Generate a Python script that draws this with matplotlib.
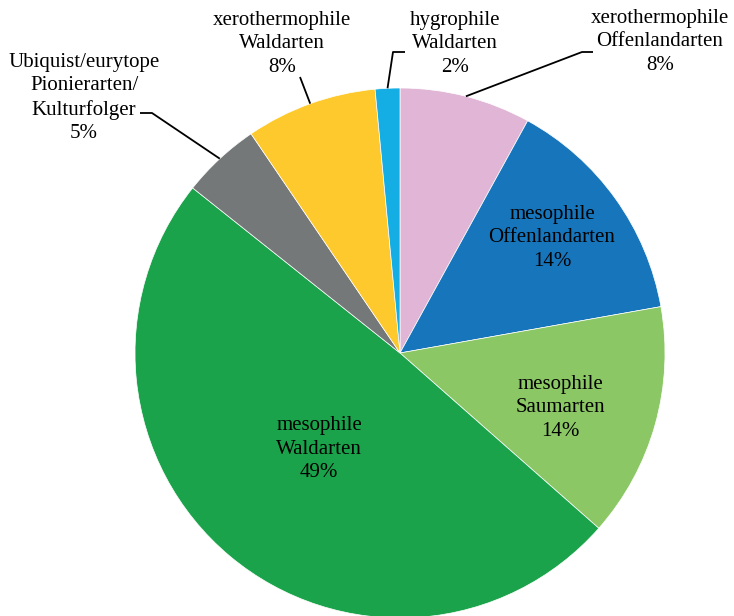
import numpy as np
import matplotlib
matplotlib.use("Agg")
import matplotlib.pyplot as plt

plt.rcParams['font.family'] = ['Liberation Serif', 'DejaVu Serif']

# data (clockwise from top)
labels = ['xerothermophile\nOffenlandarten', 'mesophile\nOffenlandarten', 'mesophile\nSaumarten',
          'mesophile\nWaldarten', 'Ubiquist/eurytope\nPionierarten/\nKulturfolger',
          'xerothermophile\nWaldarten', 'hygrophile\nWaldarten']
values = [8.0, 14.2, 14.3, 49.2, 4.8, 8.0, 1.5]
colors = ['#E0B5D6', '#1775BC', '#8BC765', '#1AA34A', '#757878', '#FDC92D', '#14AEE4']

# label placement in pixel coords of the 734x616 image (center x, center y)
C_X, C_Y, R = 400, 353, 265
label_pos = [(660, 42), (552, 238), (560, 408), (319, 449), (84, 98), (282, 44), (455, 44)]
# leader elbows: (elbow point, end point) in pixels
leaders = {0: [(582, 52), (593, 52)],
           4: [(152, 113), (140, 113)],
           5: [(300, 77)],
           6: [(393, 52), (405, 52)]}


def to_data(p):
    return ((p[0] - C_X) / R, (C_Y - p[1]) / R)


fig = plt.figure(figsize=(7.34, 6.16), dpi=100)
ax = fig.add_axes([(C_X - R) / 734, (616 - C_Y - R) / 616, 2 * R / 734, 2 * R / 616])
wedges, _ = ax.pie(values, colors=colors, startangle=90, counterclock=False, radius=1,
                   wedgeprops=dict(edgecolor='white', linewidth=0.5))
ax.set_xlim(-1, 1)
ax.set_ylim(-1, 1)
ax.axis('off')

total = sum(values)
for i, (lab, v) in enumerate(zip(labels, values)):
    txt = f"{lab}\n{round(v / total * 100):.0f}%"
    x, y = to_data(label_pos[i])
    ax.text(x, y, txt, ha='center', va='center', fontsize=15, color='black',
            linespacing=1.32, clip_on=False)
    if i in leaders:
        w = wedges[i]
        mid = np.deg2rad((w.theta1 + w.theta2) / 2)
        pts = [(np.cos(mid), np.sin(mid))] + [to_data(p) for p in leaders[i]]
        xs, ys = zip(*pts)
        ax.plot(xs, ys, color='black', lw=1.3, clip_on=False, solid_capstyle='butt')

fig.savefig('out.png', dpi=100)
